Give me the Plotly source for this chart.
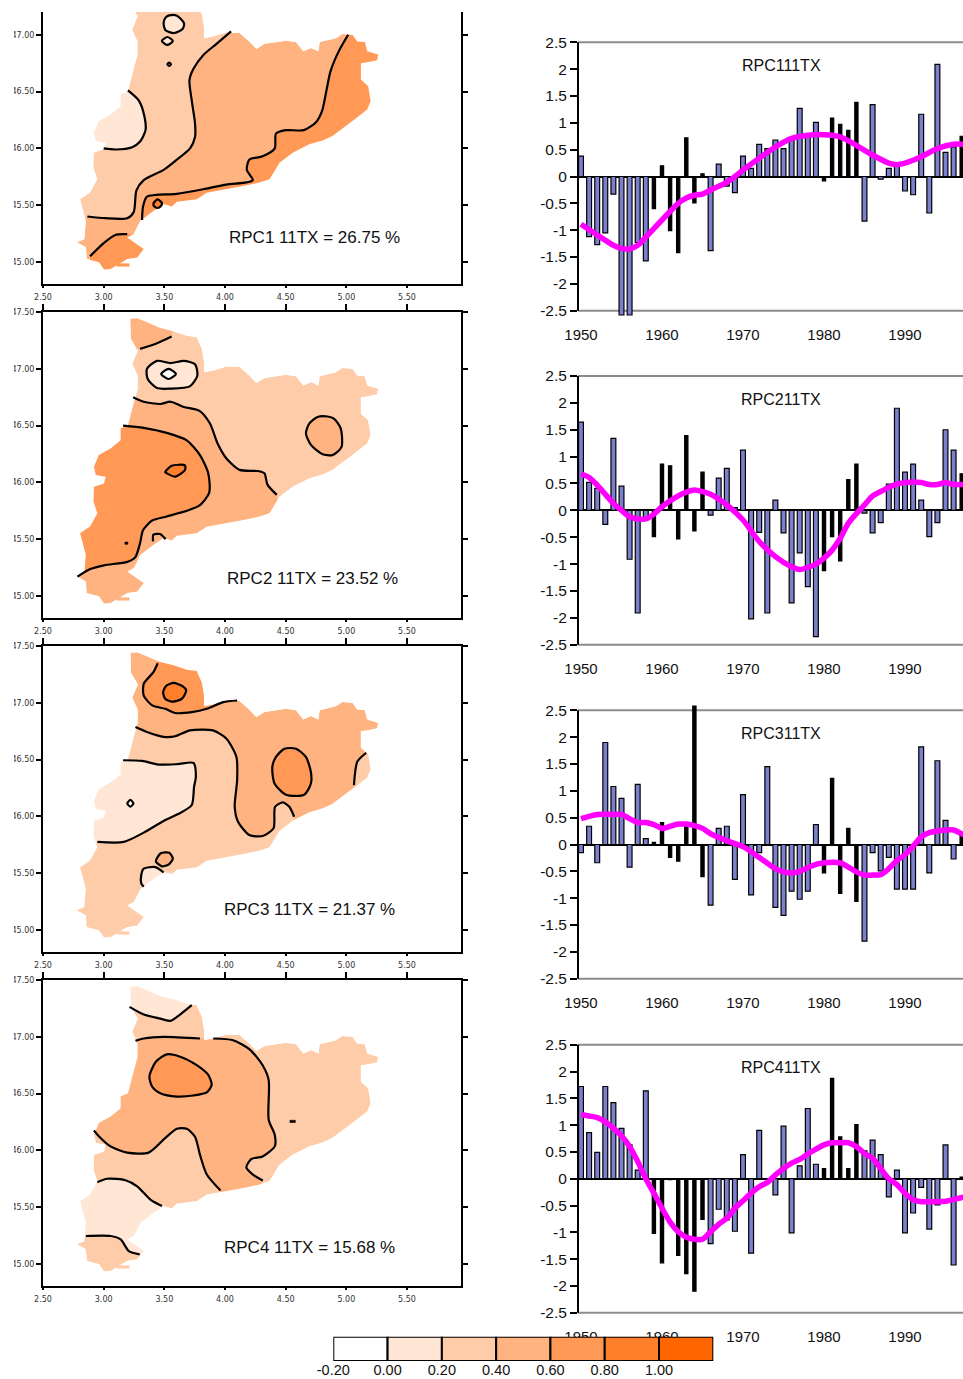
import plotly.graph_objects as go

W, H = 963, 1379

# ---------- colour classes ----------
LEVEL_EDGES = [-0.2, 0.0, 0.2, 0.4, 0.6, 0.8, 1.0, 1.2]
LEVEL_LABELS = ["-0.20", "0.00", "0.20", "0.40", "0.60", "0.80", "1.00"]
LEVEL_COLORS = ["#FFFFFF", "#FFE6D5", "#FFCCAA", "#FFB380", "#FF9955", "#FF7F2A", "#FF6600"]

# ---------- region outline (lon, lat) ----------
OUTLINE_LON = [3.22,3.276,3.357,3.466,3.576,3.685,3.767,3.81,3.827,3.827,3.903,4.012,4.12,4.20,4.258,4.326,4.503,4.585,4.645,4.708,4.77,4.78,4.913,4.967,5.05,5.09,5.153,5.172,5.262,5.254,5.172,5.12,5.12,5.18,5.2,5.172,5.05,4.885,4.804,4.694,4.558,4.449,4.367,4.285,4.162,4.012,3.849,3.767,3.603,3.562,3.494,3.412,3.303,3.248,3.194,3.33,3.276,3.194,3.057,3.003,2.962,2.861,2.853,2.779,2.84,2.853,2.806,2.888,2.948,2.916,2.92,3.003,3.016,2.935,2.92,2.96,3.057,3.14,3.14,3.2,3.235,3.28,3.28,3.235,3.281,3.226]
OUTLINE_LAT = [47.44,47.444,47.41,47.36,47.33,47.29,47.28,47.175,47.06,46.97,46.985,47.02,47.015,46.94,46.875,46.92,46.947,46.935,46.854,46.883,46.854,46.935,46.97,47.006,47.0,46.94,46.935,46.854,46.825,46.775,46.757,46.75,46.605,46.547,46.415,46.342,46.24,46.108,46.07,46.035,45.962,45.874,45.728,45.70,45.67,45.64,45.61,45.553,45.53,45.488,45.51,45.45,45.362,45.246,45.216,45.114,45.04,45.026,44.939,44.933,44.997,45.026,45.129,45.173,45.20,45.363,45.553,45.611,45.728,45.83,45.962,45.991,46.05,46.064,46.137,46.24,46.298,46.371,46.474,46.503,46.635,46.825,46.94,47.044,47.16,47.263]
ISLET_LON = [3.11, 3.21, 3.21, 3.11]
ISLET_LAT = [44.962, 44.962, 44.985, 44.985]

# ---------- map 1 contours ----------
M1_A = ([4.05,3.93,3.82,3.74,3.707,3.726,3.753,3.753,3.712,3.603,3.494,3.33,3.27,3.248,3.194,3.016,2.866],
        [47.03,46.92,46.82,46.70,46.6,46.42,46.22,46.10,46.0,45.9,45.81,45.72,45.63,45.44,45.385,45.385,45.40])
M1_B = ([3.2,3.29,3.336,3.345,3.30,3.235,3.1,3.0],
        [46.51,46.42,46.28,46.16,46.06,46.01,45.99,46.0])
M1_C = ([5.015,4.94,4.87,4.836,4.80,4.75,4.65,4.50,4.42,4.41,4.31,4.2,4.18,4.23,4.176,4.01,3.82,3.60,3.357,3.325,3.316],
        [47.0,46.86,46.68,46.51,46.33,46.23,46.16,46.16,46.13,46.0,45.93,45.9,45.81,45.72,45.70,45.68,45.64,45.6,45.575,45.49,45.37])
M1_D = ([3.194,3.1,3.0,2.888], [45.245,45.24,45.166,45.05])
M1_E = ([3.54,3.6,3.663,3.65,3.58,3.51,3.494,3.51], [47.17,47.17,47.10,47.05,47.015,47.04,47.10,47.15])
M1_F = ([3.48,3.525,3.57,3.525], [46.945,46.98,46.945,46.91])
M1_G = ([3.525,3.54,3.555,3.54], [46.74,46.755,46.74,46.725])
M1_H = ([3.41,3.445,3.48,3.47,3.445,3.42], [45.515,45.55,45.52,45.49,45.475,45.485])

# ---------- map 2 contours ----------
M2_A = ([3.30,3.44,3.56], [47.175,47.225,47.284])
M2_B = ([3.243,3.33,3.467,3.55,3.66,3.79,3.875,3.94,4.012,4.12,4.27,4.325,4.35,4.427],
        [46.75,46.71,46.69,46.71,46.664,46.63,46.52,46.34,46.21,46.11,46.10,46.08,45.98,45.89])
M2_C = ([3.16,3.33,3.52,3.685,3.794,3.862,3.87,3.794,3.685,3.52,3.40,3.325,3.30,3.26,3.194,3.003,2.89,2.784],
        [46.50,46.48,46.436,46.37,46.24,46.08,45.91,45.80,45.75,45.70,45.664,45.58,45.465,45.34,45.30,45.27,45.237,45.17])
M2_D = ([3.507,3.56,3.67,3.67,3.59,3.52], [46.09,46.146,46.15,46.108,46.05,46.08])
M2_E = ([4.845,4.90,4.954,4.96,4.885,4.80,4.708,4.667,4.694,4.763], [46.58,46.56,46.474,46.31,46.24,46.25,46.33,46.43,46.517,46.576])
M2_F = ([3.44,3.55,3.66,3.753,3.772,3.71,3.55,3.44,3.363,3.357], [47.07,47.05,47.07,47.04,46.94,46.845,46.825,46.83,46.91,47.0])
M2_G = ([3.535,3.595,3.535,3.475], [47.0,46.955,46.91,46.955])
M2_H = ([3.407,3.41,3.465,3.51], [45.48,45.54,45.545,45.5])
M2_DOT = ([3.175,3.2,3.2,3.175], [45.455,45.455,45.475,45.475])

# ---------- map 3 contours ----------
M3_A = ([3.262,3.357,3.494,3.59,3.712,3.90,4.012,4.094,4.10,4.08,4.107,4.20,4.31,4.40,4.413,4.476,4.53,4.57],
        [46.786,46.743,46.70,46.705,46.757,46.757,46.684,46.523,46.32,46.085,45.953,45.836,45.827,45.895,46.085,46.123,46.085,45.997])
M3_B = ([3.16,3.316,3.45,3.61,3.74,3.76,3.745,3.726,3.63,3.494,3.33,3.166,2.948],
        [46.494,46.488,46.456,46.46,46.47,46.35,46.26,46.10,46.03,45.96,45.857,45.775,45.775])
M3_C = ([3.445,3.41,3.33,3.33,3.40,3.507,3.59,3.726,3.85,3.985,4.10],
        [47.348,47.27,47.167,47.064,46.977,46.947,46.91,46.918,46.947,47.006,47.02])
M3_D = ([3.576,3.644,3.68,3.644,3.56,3.507,3.49,3.516], [47.175,47.15,47.11,47.035,47.01,47.035,47.094,47.15])
M3_E = ([4.49,4.585,4.667,4.708,4.708,4.653,4.503,4.408,4.39,4.42], [46.596,46.596,46.523,46.39,46.29,46.19,46.19,46.29,46.436,46.523])
M3_F = ([5.164,5.09,5.063], [46.56,46.48,46.275])
M3_G = ([3.47,3.54,3.57,3.54,3.48,3.43], [45.675,45.68,45.63,45.58,45.56,45.605])
M3_H = ([3.494,3.426,3.33,3.31,3.31,3.33], [45.506,45.553,45.54,45.486,45.41,45.38])
M3_I = ([3.22,3.245,3.22,3.195], [46.145,46.114,46.085,46.114])

# ---------- map 4 contours ----------
M4_A1 = ([3.262,3.33,3.494,3.794], [46.965,46.985,47.0,46.985])
M4_A2 = ([3.903,4.067,4.203,4.31,4.36,4.36,4.41,4.41,4.31,4.217,4.176,4.23,4.312],
         [46.985,46.97,46.89,46.75,46.62,46.27,46.137,46.035,45.947,45.924,45.85,45.787,45.734])
M4_A3 = ([3.963,3.85,3.794,3.753,3.685,3.603,3.507,3.37,3.194,3.057,2.962,2.92],
         [45.646,45.787,45.96,46.12,46.19,46.19,46.108,45.98,45.98,46.035,46.123,46.175])
M4_B = ([3.52,3.63,3.767,3.862,3.89,3.85,3.74,3.603,3.467,3.40,3.377,3.43],
        [46.845,46.825,46.75,46.664,46.576,46.51,46.483,46.474,46.503,46.56,46.65,46.78])
M4_C = ([3.213,3.33,3.466,3.55,3.63,3.726], [47.263,47.196,47.16,47.14,47.196,47.278])
M4_D1 = ([2.948,3.03,3.18,3.276,3.385,3.48], [45.72,45.75,45.737,45.684,45.567,45.51])
M4_D2 = ([2.853,3.057,3.14,3.207,3.297], [45.246,45.246,45.216,45.114,45.085])
M4_DOT = ([4.535,4.58,4.58,4.535], [46.245,46.245,46.265,46.265])

# ---------- map captions ----------
MAP_CAPTIONS = ["RPC1 11TX = 26.75 %", "RPC2 11TX = 23.52 %", "RPC3 11TX = 21.37 %", "RPC4 11TX = 15.68 %"]
CAPTION_LON = [4.738, 4.72, 4.70, 4.70]
CAPTION_LAT = [45.213, 45.158, 45.178, 45.143]
MAP_LON_TICKS = [2.5, 3.0, 3.5, 4.0, 4.5, 5.0, 5.5]
MAP_LAT_TICKS = [45.0, 45.5, 46.0, 46.5, 47.0, 47.5]

# ---------- time series ----------
YEARS = list(range(1950, 1998))
DARK_YEARS = [1959,1960,1961,1962,1963,1964,1965,1980,1981,1982,1983,1984,1997]
TS_TITLES = ["RPC111TX", "RPC211TX", "RPC311TX", "RPC411TX"]
YEAR_TICKS = [1950, 1960, 1970, 1980, 1990]
VALUE_TICKS = [2.5, 2, 1.5, 1, 0.5, 0, -0.5, -1, -1.5, -2, -2.5]
VALUE_LABELS = ["2.5", "2", "1.5", "1", "0.5", "0", "-0.5", "-1", "-1.5", "-2", "-2.5"]

TS1 = [0.38,-1.12,-1.27,-1.05,-0.33,-2.58,-2.58,-1.23,-1.57,-0.6,0.2,-1.01,-1.42,0.72,-0.49,0.05,-1.38,0.23,-0.18,-0.3,0.38,0.15,0.6,0.52,0.68,0.52,0.68,1.27,0.77,1.01,-0.08,1.09,0.97,0.86,1.38,-0.83,1.34,-0.05,0.15,0.2,-0.27,-0.34,1.16,-0.68,2.09,0.45,0.55,0.75]
TS2 = [1.64,0.52,0.41,-0.26,1.34,0.45,-0.91,-1.91,-0.15,-0.49,0.86,0.83,-0.53,1.39,-0.38,0.71,-0.09,0.6,0.78,0.05,1.12,-2.02,-0.41,-1.91,0.19,-0.42,-1.72,-0.79,-1.42,-2.35,-1.12,-0.49,-0.94,0.57,0.86,-0.05,-0.42,-0.23,0.49,1.9,0.71,0.86,0.19,-0.49,-0.23,1.5,1.12,0.68]
TS3 = [-0.15,0.34,-0.34,1.9,1.08,0.86,-0.42,1.12,0.11,0.04,0.41,-0.24,-0.31,0.36,2.58,-0.6,-1.13,0.3,0.34,-0.65,0.93,-0.94,-0.15,1.45,-1.17,-1.32,-0.87,-1.02,-0.87,0.37,-0.53,1.23,-0.91,0.3,-1.06,-1.8,-0.15,-0.49,-0.24,-0.83,-0.83,-0.83,1.82,-0.53,1.56,0.45,-0.27,0.17]
TS4 = [1.72,0.86,0.49,1.72,1.42,0.94,0.63,0.16,1.64,-1.02,-1.57,-0.02,-1.43,-1.77,-2.1,-0.76,-1.21,-0.57,-0.77,-0.98,0.45,-1.39,0.9,0.0,-0.3,0.98,-1.01,0.24,1.31,0.27,0.19,1.87,0.78,0.19,1.01,0.52,0.72,0.45,-0.34,0.16,-1.01,-0.64,-0.16,-0.94,-0.49,0.63,-1.61,0.03]

S1_X = [1950,1952,1954,1955,1956,1957,1958,1960,1962,1963,1964,1965,1966,1968,1970,1972,1974,1976,1978,1980,1982,1984,1986,1988,1989,1990,1992,1994,1996,1997,1998]
S1_Y = [-0.89,-1.09,-1.28,-1.34,-1.35,-1.28,-1.13,-0.81,-0.5,-0.4,-0.35,-0.33,-0.25,-0.11,0.12,0.34,0.55,0.71,0.77,0.78,0.74,0.58,0.4,0.25,0.22,0.25,0.37,0.52,0.6,0.6,0.58]
S2_X = [1950,1951,1952,1954,1955,1956,1957,1958,1959,1960,1962,1963,1964,1965,1966,1968,1970,1972,1974,1976,1977,1978,1979,1980,1981,1982,1983,1984,1985,1986,1987,1988,1989,1990,1992,1993,1994,1995,1996,1997,1998]
S2_Y = [0.68,0.61,0.47,0.13,0.0,-0.12,-0.16,-0.16,-0.07,0.07,0.27,0.34,0.38,0.35,0.3,0.1,-0.18,-0.58,-0.86,-1.05,-1.1,-1.06,-1.0,-0.89,-0.74,-0.52,-0.24,-0.06,0.1,0.27,0.35,0.43,0.49,0.52,0.52,0.48,0.48,0.52,0.48,0.48,0.48]
S3_X = [1950,1952,1954,1955,1956,1957,1958,1959,1960,1961,1962,1963,1964,1965,1966,1968,1970,1972,1974,1975,1976,1977,1978,1979,1980,1982,1983,1984,1985,1986,1987,1988,1989,1990,1991,1992,1993,1994,1995,1996,1997,1998]
S3_Y = [0.48,0.56,0.56,0.56,0.48,0.41,0.41,0.37,0.3,0.34,0.38,0.38,0.35,0.3,0.2,0.07,-0.04,-0.24,-0.45,-0.51,-0.53,-0.5,-0.43,-0.37,-0.34,-0.34,-0.42,-0.51,-0.57,-0.57,-0.56,-0.45,-0.3,-0.19,-0.03,0.14,0.22,0.25,0.27,0.27,0.2,0.15]
S4_X = YEARS + [1998]
S4_Y = [1.2,1.17,1.14,1.06,0.94,0.8,0.6,0.32,0.0,-0.27,-0.55,-0.81,-0.99,-1.09,-1.13,-1.13,-0.99,-0.85,-0.74,-0.55,-0.41,-0.27,-0.15,-0.07,0.07,0.19,0.29,0.36,0.46,0.55,0.63,0.67,0.67,0.67,0.6,0.47,0.38,0.19,0.0,-0.11,-0.27,-0.39,-0.43,-0.43,-0.43,-0.42,-0.39,-0.35,-0.33]

# ---------- pixel layout ----------
MAP_LEFT, MAP_RIGHT = 43, 461
MAP_TOP = [12, 312, 646, 980]
MAP_BOTTOM = [284, 618, 952, 1286]
MAP_XRANGE = [2.5, 5.945]
MAP_YMIN = 44.806
MAP_YMAX = [47.20, 47.5, 47.5, 47.5]
TS_LEFT, TS_RIGHT = 578, 963
TS_TOP = [42.3, 376, 710.3, 1044.7]        # pixel rows of +2.5
TS_BOTTOM = [310.7, 644.7, 978.7, 1312.7]  # pixel rows of -2.5
TS_OVERHANG = 0.1                          # bars may run this far past the +-2.5 frame
TS_XRANGE = [1949.63, 1997.16]
CB_BOX = (333.3, 713.3, 1336.7, 1361)

FONT = "Liberation Sans"
TICKFONT = "DejaVu Sans"


def xdom(a, b):
    return [a / W, b / W]


def ydom(top, bottom):
    return [1 - bottom / H, 1 - top / H]


def join(*parts):
    lon, lat = [], []
    for p in parts:
        lon += list(p[0])
        lat += list(p[1])
    return lon, lat


def close(p):
    return list(p[0]) + [p[0][0]], list(p[1]) + [p[1][0]]


fig = go.Figure()


def add_fill(n, level, poly, smooth=False):
    lon, lat = close(poly)
    fig.add_trace(go.Scatter(
        x=lon, y=lat, mode="lines", fill="toself", fillcolor=LEVEL_COLORS[level],
        line=dict(width=0, color=LEVEL_COLORS[level], shape="spline" if smooth else "linear", smoothing=0.8),
        hoverinfo="skip", showlegend=False, xaxis=f"x{n}", yaxis=f"y{n}"))


def add_line(n, c, closed=False, width=2.2):
    lon, lat = close(c) if closed else c
    fig.add_trace(go.Scatter(
        x=lon, y=lat, mode="lines", line=dict(color="black", width=width, shape="spline", smoothing=0.7),
        hoverinfo="skip", showlegend=False, xaxis=f"x{n}", yaxis=f"y{n}"))


def add_solid(n, p, color="black"):
    lon, lat = close(p)
    fig.add_trace(go.Scatter(x=lon, y=lat, mode="lines", fill="toself", fillcolor=color,
                             line=dict(width=0.5, color=color), hoverinfo="skip", showlegend=False,
                             xaxis=f"x{n}", yaxis=f"y{n}"))


# layers per map: (level, polygon, smooth) then contour lines
OUTLINE = (OUTLINE_LON, OUTLINE_LAT)
FILLS = {
    1: [(3, OUTLINE, False),
        (2, join(M1_A, ([2.6, 2.6, 4.05], [45.4, 47.6, 47.6])), False),
        (1, join(M1_B, ([2.6, 2.6, 3.2], [46.0, 46.51, 46.6])), False),
        (4, join(M1_C, ([3.5, 5.6, 5.6], [45.2, 45.2, 47.0])), False),
        (4, join(M1_D, ([2.888, 3.5, 3.5], [44.8, 44.8, 45.245])), False),
        (1, M1_E, True), (1, M1_F, True), (1, M1_G, True), (5, M1_H, True)],
    2: [(2, OUTLINE, False),
        (3, join(M2_A, ([3.6, 2.9, 2.9], [47.6, 47.6, 47.17])), False),
        (3, join(M2_B, ([4.5, 2.6, 2.6], [45.3, 44.8, 46.75])), False),
        (4, join(M2_C, ([2.6, 2.6], [45.17, 46.5])), False),
        (5, M2_D, True), (3, M2_E, True), (1, M2_F, True), (0, M2_G, True)],
    3: [(3, OUTLINE, False),
        (2, join(M3_A, ([4.6, 2.6, 2.6], [45.3, 44.8, 46.786])), False),
        (1, join(M3_B, ([2.6, 2.6], [45.775, 46.494])), False),
        (4, join(M3_C, ([4.1, 3.445], [47.6, 47.6])), False),
        (5, M3_D, True), (4, M3_E, True),
        (2, join(M3_F, ([5.5, 5.5], [46.275, 46.56])), False),
        (3, M3_G, True),
        (1, join(M3_H, ([3.6, 3.6], [45.38, 45.5])), False),
        (0, M3_I, True)],
    4: [(2, OUTLINE, False),
        (3, join(M4_A1, M4_A2, ([4.2, 3.96], [45.5, 45.5]), M4_A3, ([2.6, 2.6], [46.175, 46.965])), False),
        (4, M4_B, True),
        (1, join(M4_C, ([3.726, 3.0, 3.0], [47.6, 47.6, 47.263])), False),
        (1, join(M4_D1, ([3.6, 3.6], [45.4, 45.1]), (M4_D2[0][::-1], M4_D2[1][::-1]), ([2.6, 2.6], [45.246, 45.72])), False)],
}
LINES = {
    1: [(M1_A, False), (M1_B, False), (M1_C, False), (M1_D, False), (M1_E, True), (M1_F, True), (M1_G, True), (M1_H, True)],
    2: [(M2_A, False), (M2_B, False), (M2_C, False), (M2_D, True), (M2_E, True), (M2_F, True), (M2_G, True), (M2_H, False)],
    3: [(M3_A, False), (M3_B, False), (M3_C, False), (M3_D, True), (M3_E, True), (M3_F, False), (M3_G, True), (M3_H, False), (M3_I, True)],
    4: [(M4_A1, False), (M4_A2, False), (M4_A3, False), (M4_B, True), (M4_C, False), (M4_D1, False), (M4_D2, False)],
}
ISLET_LEVEL = {1: 4, 2: 3, 3: 2, 4: 2}
DOTS = {2: [M2_DOT], 4: [M4_DOT]}

for n in range(1, 5):
    for level, poly, smooth in FILLS[n]:
        add_fill(n, level, poly, smooth)
    # white mask outside the region outline (outer ring runs opposite to the outline)
    mx = [2.3, 2.3, 6.1, 6.1, 2.3, None] + OUTLINE_LON + [OUTLINE_LON[0]]
    my = [47.7, 44.6, 44.6, 47.7, 47.7, None] + OUTLINE_LAT + [OUTLINE_LAT[0]]
    fig.add_trace(go.Scatter(x=mx, y=my, mode="lines", fill="toself", fillcolor="white",
                             line=dict(width=0, color="white"), hoverinfo="skip", showlegend=False,
                             xaxis=f"x{n}", yaxis=f"y{n}"))
    add_solid(n, (ISLET_LON, ISLET_LAT), LEVEL_COLORS[ISLET_LEVEL[n]])
    for c, closed in LINES[n]:
        add_line(n, c, closed)
    for d in DOTS.get(n, []):
        add_solid(n, d)

# time series on axes 5-8
TS_VALUES = [TS1, TS2, TS3, TS4]
TS_SMOOTH = [(S1_X, S1_Y), (S2_X, S2_Y), (S3_X, S3_Y), (S4_X, S4_Y)]
BLUE = "#7B80CC"
for i in range(4):
    n = i + 5
    colors = ["black" if y in DARK_YEARS else BLUE for y in YEARS]
    widths = [0.4 if y in DARK_YEARS else 0.6 for y in YEARS]
    fig.add_trace(go.Bar(x=YEARS, y=TS_VALUES[i], width=widths,
                         marker=dict(color=colors, line=dict(color="black", width=1.2)),
                         hoverinfo="skip", showlegend=False, xaxis=f"x{n}", yaxis=f"y{n}"))
    sx, sy = TS_SMOOTH[i]
    fig.add_trace(go.Scatter(x=sx, y=sy, mode="lines",
                             line=dict(color="#FF00FF", width=5.5, shape="spline", smoothing=0.8),
                             hoverinfo="skip", showlegend=False, xaxis=f"x{n}", yaxis=f"y{n}"))

# dummy traces so the top-tick overlay axes are drawn (maps 2-4)
for i, n in enumerate([2, 3, 4]):
    fig.add_trace(go.Scatter(x=MAP_LON_TICKS, y=[46] * len(MAP_LON_TICKS), mode="none", hoverinfo="skip",
                             showlegend=False, xaxis=f"x{9 + i}", yaxis=f"y{n}"))

# colour bar on axes 12
fig.add_trace(go.Bar(
    y=[0.5] * len(LEVEL_COLORS),
    x=[LEVEL_EDGES[i + 1] - LEVEL_EDGES[i] for i in range(len(LEVEL_COLORS))],
    base=LEVEL_EDGES[:-1], orientation="h", width=1, cliponaxis=False,
    marker=dict(color=LEVEL_COLORS, line=dict(color="black", width=2)),
    hoverinfo="skip", showlegend=False, xaxis="x12", yaxis="y12"))

layout = dict(template="none", width=W, height=H, margin=dict(l=0, r=0, t=0, b=0, pad=0), autosize=False,
              paper_bgcolor="white", plot_bgcolor="rgba(0,0,0,0)", barmode="overlay", showlegend=False,
              font=dict(family=FONT, color="#111111"))
annotations, shapes = [], []

for i in range(4):
    n = i + 1
    ticks = [t for t in MAP_LAT_TICKS if t <= MAP_YMAX[i]]
    layout[f"xaxis{n}"] = dict(domain=xdom(MAP_LEFT, MAP_RIGHT), range=MAP_XRANGE, anchor=f"y{n}", automargin=False,
                               tickvals=MAP_LON_TICKS, tickformat=".2f", ticks="outside", ticklen=2, tickwidth=2,
                               tickcolor="black", showline=True, linecolor="black", linewidth=2,
                               showgrid=False, zeroline=False, ticklabelstandoff=2,
                               tickfont=dict(family=TICKFONT, size=8, color="#333333"))
    layout[f"yaxis{n}"] = dict(domain=ydom(MAP_TOP[i], MAP_BOTTOM[i]), range=[MAP_YMIN, MAP_YMAX[i]], anchor=f"x{n}",
                               automargin=False, tickvals=ticks, tickformat=".2f", ticks="outside", ticklen=5, tickwidth=2,
                               tickcolor="black", showline=True, linecolor="black", linewidth=2, mirror="ticks",
                               showgrid=False, zeroline=False,
                               tickfont=dict(family=TICKFONT, size=8, color="#333333"))
    annotations.append(dict(x=CAPTION_LON[i], y=CAPTION_LAT[i], xref=f"x{n}", yref=f"y{n}", text=MAP_CAPTIONS[i],
                            showarrow=False, xanchor="center", yanchor="middle",
                            font=dict(family=FONT, size=17, color="#111111")))

for i, n in enumerate([2, 3, 4]):
    layout[f"xaxis{9 + i}"] = dict(domain=xdom(MAP_LEFT, MAP_RIGHT), range=MAP_XRANGE, overlaying=f"x{n}", side="top",
                                   anchor=f"y{n}", automargin=False, tickvals=MAP_LON_TICKS, showticklabels=False,
                                   ticks="outside", ticklen=6, tickwidth=2, tickcolor="black", showline=True,
                                   linecolor="black", linewidth=2, showgrid=False, zeroline=False)

for i in range(4):
    n = i + 5
    px_per_unit = (TS_BOTTOM[i] - TS_TOP[i]) / 5.0
    pad = TS_OVERHANG * px_per_unit
    layout[f"xaxis{n}"] = dict(domain=xdom(TS_LEFT, TS_RIGHT), range=TS_XRANGE, anchor=f"y{n}", automargin=False,
                               tickvals=YEAR_TICKS, ticks="", showline=False, showgrid=False, zeroline=False,
                               ticklabelstandoff=8, tickfont=dict(family=FONT, size=15, color="#111111"))
    layout[f"yaxis{n}"] = dict(domain=ydom(TS_TOP[i] - pad, TS_BOTTOM[i] + pad),
                               range=[-2.5 - TS_OVERHANG, 2.5 + TS_OVERHANG], anchor=f"x{n}", automargin=False,
                               tickvals=VALUE_TICKS, ticktext=VALUE_LABELS, ticks="outside", ticklen=7, tickwidth=2,
                               tickcolor="black", showline=False,
                               showgrid=False, zeroline=True, zerolinecolor="black", zerolinewidth=2,
                               tickfont=dict(family=FONT, size=15.5, color="#111111"))
    # frame: grey lines at +-2.5 and the black value axis stopping at them
    for row in (TS_TOP[i], TS_BOTTOM[i]):
        shapes.append(dict(type="line", xref="paper", yref="paper", x0=TS_LEFT / W, x1=1,
                           y0=1 - row / H, y1=1 - row / H, line=dict(color="#8C8C8C", width=2), layer="below"))
    shapes.append(dict(type="line", xref="paper", yref="paper", x0=TS_LEFT / W, x1=TS_LEFT / W,
                       y0=1 - TS_BOTTOM[i] / H, y1=1 - TS_TOP[i] / H, line=dict(color="black", width=2), layer="above"))
    annotations.append(dict(x=1974.7, y=2.07, xref=f"x{n}", yref=f"y{n}", text=TS_TITLES[i], showarrow=False,
                            xanchor="center", yanchor="middle", font=dict(family=FONT, size=16, color="#111111")))

layout["xaxis12"] = dict(domain=xdom(CB_BOX[0], CB_BOX[1]), range=[LEVEL_EDGES[0], LEVEL_EDGES[-1]], anchor="y12",
                         automargin=False, tickvals=LEVEL_EDGES[:-1], ticktext=LEVEL_LABELS, ticks="", showline=False,
                         showgrid=False, zeroline=False, ticklabelstandoff=-2,
                         tickfont=dict(family=FONT, size=14.5, color="#111111"))
layout["yaxis12"] = dict(domain=ydom(CB_BOX[2], CB_BOX[3]), range=[0, 1], anchor="x12", visible=False, automargin=False)

# left crop of the latitude labels, as in the source figure
shapes.append(dict(type="rect", xref="paper", yref="paper", x0=0, x1=14 / W, y0=0, y1=1,
                   fillcolor="white", line=dict(width=0), layer="above"))

layout["annotations"] = annotations
layout["shapes"] = shapes
fig.update_layout(**layout)

fig.write_html("out.html", config=dict(displayModeBar=False),
               post_script="document.body.style.margin='0';document.documentElement.style.overflow='hidden';")
